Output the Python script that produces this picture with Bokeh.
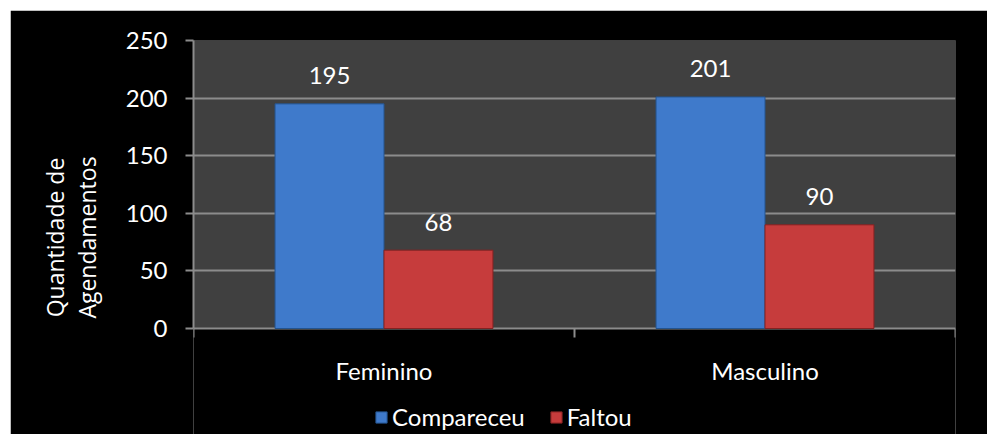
from bokeh.plotting import figure
from bokeh.models import FixedTicker, Range1d, ColumnDataSource, Legend
from bokeh.core.properties import value
from bokeh.embed import file_html
from bokeh.resources import INLINE

categories = ["Feminino", "Masculino"]
compareceu = [195, 201]
faltou = [68, 90]
series_names = ["Compareceu", "Faltou"]
y_ticks = [0, 50, 100, 150, 200, 250]

FONT = "Lato"
BLUE = "#3f7acb"
RED = "#c63c3c"
GRID = "#8c8c8c"
PLOT_BG = "#404040"

W, H = 977, 424                   # figure size (margin of 10px added outside)
M_TOP, M_LEFT = 10, 10
B_LEFT, B_RIGHT, B_TOP = 183, 32, 30
DATA_PX = 288                     # pixel height of the 0..max value area
FRAME_PX = H - B_TOP              # frame reaches down to the bottom edge
y_max = y_ticks[-1]
y_min = -y_max * (FRAME_PX - DATA_PX) / DATA_PX
tick_len = 9 * y_max / DATA_PX    # 9px expressed in data units

idx = list(range(len(categories)))
centers = [i + 0.5 for i in idx]
bounds_x = [0] + [i + 1 for i in idx]
dodge = 0.143
bw = 0.286

src_c = ColumnDataSource(dict(x=[c - dodge for c in centers], top=compareceu,
                              lab=[str(v) for v in compareceu]))
src_f = ColumnDataSource(dict(x=[c + dodge for c in centers], top=faltou,
                              lab=[str(v) for v in faltou]))

p = figure(width=W, height=H, output_backend="svg", toolbar_location=None,
           x_range=Range1d(0, len(categories)), y_range=Range1d(y_min, y_max),
           x_axis_location=None,
           min_border_left=B_LEFT, min_border_right=B_RIGHT, min_border_top=B_TOP, min_border_bottom=0)
p.margin = (M_TOP, 0, 0, M_LEFT)
p.background_fill_color = "black"
p.border_fill_color = "black"
p.outline_line_color = None

# plot area background (value area only)
p.quad(left=[0], right=[len(categories)], bottom=[0], top=[y_max],
       fill_color=PLOT_BG, line_color=None, level="image")

r1 = p.vbar(x="x", top="top", width=bw, source=src_c, fill_color=BLUE, line_color="#24548f", line_width=1)
r2 = p.vbar(x="x", top="top", width=bw, source=src_f, fill_color=RED, line_color="#842222", line_width=1)

for s in (src_c, src_f):
    p.text(x="x", y="top", text="lab", source=s, text_align="center", text_baseline="middle",
           y_offset=-28, text_color="white", text_font=value(FONT), text_font_size="24px")

# y axis
ya = p.yaxis[0]
ya.ticker = FixedTicker(ticks=y_ticks)
ya.bounds = (0, y_max)
ya.axis_line_color = GRID
ya.axis_line_width = 2
ya.major_tick_line_color = GRID
ya.major_tick_line_width = 2
ya.major_tick_out = 8
ya.major_tick_in = 0
ya.minor_tick_line_color = None
ya.major_label_text_color = "white"
ya.major_label_text_font = FONT
ya.major_label_text_font_size = "24px"
ya.major_label_standoff = 18
ya.axis_label = "Quantidade de\nAgendamentos"
ya.axis_label_text_color = "white"
ya.axis_label_text_font = "Open Sans"
ya.axis_label_text_font_size = "23px"
ya.axis_label_text_font_style = "normal"
ya.axis_label_text_line_height = 1.0
ya.axis_label_standoff = 20

# horizontal grid (the line at 0 acts as the category axis line)
p.xgrid.grid_line_color = None
p.ygrid.ticker = FixedTicker(ticks=y_ticks)
p.ygrid.grid_line_color = GRID
p.ygrid.grid_line_width = 2

# category axis: boundary ticks and labels
p.segment(x0=bounds_x, y0=[0] * len(bounds_x), x1=bounds_x, y1=[-tick_len] * len(bounds_x),
          line_color=GRID, line_width=2)
p.text(x=centers, y=[0] * len(centers), text=categories, y_offset=42,
       text_align="center", text_baseline="middle", text_color="white",
       text_font=value(FONT), text_font_size="24px")

legend = Legend(items=[(series_names[0], [r1]), (series_names[1], [r2])],
                orientation="horizontal", location=(181, 3),
                background_fill_alpha=0, border_line_color=None,
                label_text_color="white", label_text_font=FONT, label_text_font_size="24px",
                glyph_width=14, glyph_height=14, spacing=24, label_standoff=4,
                margin=0, padding=2)
p.add_layout(legend)

open("out.html", "w").write(file_html(p, INLINE))
